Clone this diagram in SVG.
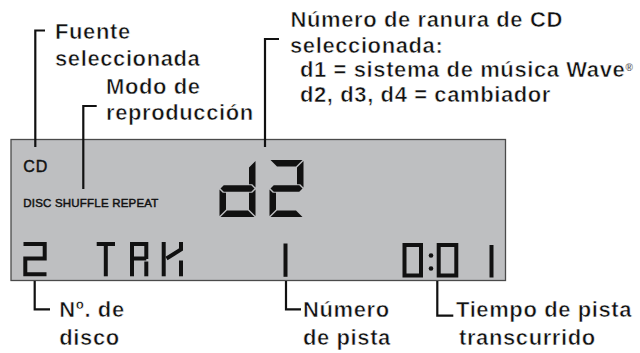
<svg xmlns="http://www.w3.org/2000/svg" width="640" height="353" viewBox="0 0 640 353">
  <style>
    .lbl { font-family: "Liberation Sans", Arial, sans-serif; font-size: 22px; font-weight: bold; letter-spacing: 0.6px; fill: #111; stroke: #fff; stroke-width: 0.55px; }
    .lcdtxt { font-family: "Liberation Sans", Arial, sans-serif; fill: #111; stroke: #111; stroke-width: 0.45; }
    .lead { fill: none; stroke: #111; stroke-width: 2.2; }
    .seg { fill: #111; }
    .sm { fill: none; stroke: #111; stroke-width: 4; stroke-linejoin: miter; }
  </style>

  <g id="lcd-panel">
    <rect x="11" y="139.5" width="494.5" height="141" fill="#bebfc1" stroke="#4a4a4a" stroke-width="1.3"/>
    <text class="lcdtxt" x="23.3" y="171.7" font-size="16" letter-spacing="0.8">CD</text>
    <text class="lcdtxt" x="23.3" y="206.7" font-size="11.5" letter-spacing="0.2">DISC SHUFFLE REPEAT</text>
  </g>

  <g id="digit-d2">
    <polygon class="seg" points="249,167.5 255.5,161 255.5,187.5 252.25,184.25 249,184.25"/>
    <polygon class="seg" points="249,209.5 255.5,216 255.5,189.5 252.25,192.75 249,192.75"/>
    <polygon class="seg" points="226,209.5 219.5,216 219.5,189.5 222.75,192.75 226,192.75"/>
    <polygon class="seg" points="220.5,188.5 223.75,185.25 251.25,185.25 254.5,188.5 251.25,191.75 223.75,191.75"/>
    <polygon class="seg" points="220.5,217 254.5,217 248,210.5 227,210.5"/>
    <polygon class="seg" points="270.5,160 302.5,160 296,166.5 277,166.5"/>
    <polygon class="seg" points="297,167.5 303.5,161 303.5,187.5 300.25,184.25 297,184.25"/>
    <polygon class="seg" points="270.5,188.5 273.75,185.25 299.25,185.25 302.5,188.5 299.25,191.75 273.75,191.75"/>
    <polygon class="seg" points="276,209.5 269.5,216 269.5,189.5 272.75,192.75 276,192.75"/>
    <polygon class="seg" points="270.5,217 302.5,217 296,210.5 277,210.5"/>
  </g>

  <g id="disc-number">
    <polyline class="sm" points="23.5,244 44.7,244 44.7,258.5 25.3,258.5 25.3,274.3 46.5,274.3"/>
  </g>

  <g id="trk-label">
    <line class="sm" x1="96.7" y1="244" x2="115" y2="244"/>
    <line class="sm" x1="105.8" y1="244" x2="105.8" y2="276.3"/>
    <line class="sm" x1="132" y1="242" x2="132" y2="276.3"/>
    <polyline class="sm" points="132,244 146.3,244 146.3,259"/>
    <line class="sm" x1="132" y1="258.5" x2="146.3" y2="258.5"/>
    <line class="sm" x1="146.3" y1="261.5" x2="146.3" y2="276.3"/>
    <line class="sm" x1="163.7" y1="242" x2="163.7" y2="276.3"/>
    <polyline class="sm" points="181,242 181,249.5 166.5,258.5"/>
    <line class="sm" x1="181" y1="260.5" x2="181" y2="276.3"/>
  </g>

  <g id="track-number">
    <line class="sm" x1="285.5" y1="243.5" x2="285.5" y2="276.8"/>
  </g>

  <g id="elapsed-time">
    <rect class="sm" x="404.5" y="245" width="16.5" height="30.5"/>
    <circle cx="431" cy="255.5" r="2.3" fill="#111"/>
    <circle cx="431" cy="268.5" r="2.3" fill="#111"/>
    <rect class="sm" x="438.7" y="245" width="17.6" height="30.5"/>
    <line class="sm" x1="491.5" y1="245" x2="491.5" y2="277.5"/>
  </g>

  <g id="connectors">
    <polyline class="lead" points="45,30.5 35.3,30.5 35.3,147"/>
    <polyline class="lead" points="96.7,106 83.3,106 83.3,189"/>
    <polyline class="lead" points="279,39 265,39 265,147"/>
    <polyline class="lead" points="34.7,281 34.7,309.3 50,309.3"/>
    <polyline class="lead" points="286,281 286,309.3 301,309.3"/>
    <polyline class="lead" points="437.3,281 437.3,315.7 453.3,315.7"/>
  </g>

  <g id="label-fuente">
    <text class="lbl" x="55" y="39">Fuente</text>
    <text class="lbl" x="55" y="65.7">seleccionada</text>
  </g>

  <g id="label-modo">
    <text class="lbl" x="106" y="94">Modo de</text>
    <text class="lbl" x="106" y="120">reproducción</text>
  </g>

  <g id="label-ranura">
    <text class="lbl" x="290.5" y="27.3">Número de ranura de CD</text>
    <text class="lbl" x="290" y="52.5">seleccionada:</text>
    <text class="lbl" x="300" y="77.3">d1 = sistema de música Wave<tspan font-size="10" dy="-6" letter-spacing="0" stroke-width="0.2">®</tspan></text>
    <text class="lbl" x="300" y="102">d2, d3, d4 = cambiador</text>
  </g>

  <g id="label-disco">
    <text class="lbl" x="59.3" y="317">Nº. de</text>
    <text class="lbl" x="59.3" y="345">disco</text>
  </g>

  <g id="label-pista">
    <text class="lbl" x="303" y="317">Número</text>
    <text class="lbl" x="303" y="345">de pista</text>
  </g>

  <g id="label-tiempo">
    <text class="lbl" x="456" y="317">Tiempo de pista</text>
    <text class="lbl" x="459" y="345">transcurrido</text>
  </g>
</svg>
